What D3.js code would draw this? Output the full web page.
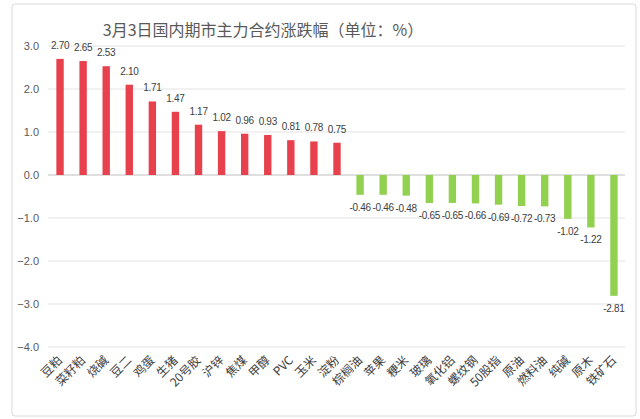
<!DOCTYPE html>
<html lang="zh">
<head>
<meta charset="UTF-8">
<script src="https://d3js.org/d3.v7.min.js"></script>
<style>
  body { margin: 0; background: #fff; }
  text { font-family: "Noto Sans CJK SC", "Liberation Sans", sans-serif; }
</style>
</head>
<body>
<div id="chart"></div>
<script>
// 品种
const categories = ["豆粕", "菜籽粕", "烧碱", "豆二", "鸡蛋", "生猪", "20号胶", "沪锌", "焦煤", "甲醇", "PVC", "玉米", "淀粉",
  "棕榈油", "苹果", "粳米", "玻璃", "氧化铝", "螺纹钢", "50股指", "原油", "燃料油", "纯碱", "原木", "铁矿石"];
// 涨跌幅 %
const values = [2.70, 2.65, 2.53, 2.10, 1.71, 1.47, 1.17, 1.02, 0.96, 0.93, 0.81, 0.78, 0.75,
  -0.46, -0.46, -0.48, -0.65, -0.65, -0.66, -0.69, -0.72, -0.73, -1.02, -1.22, -2.81];
const yTicks = [3, 2, 1, 0, -1, -2, -3, -4];

const W = 640, H = 419;
const svg = d3.select("#chart").append("svg").attr("width", W).attr("height", H);

// frame
svg.append("rect")
  .attr("x", 12).attr("y", 4).attr("width", 624).attr("height", 412)
  .attr("rx", 3)
  .attr("fill", "#fff").attr("stroke", "#d9d9d9");

const x = d3.scaleBand().domain(categories).range([48.5, 625.5]).paddingInner(0.68).paddingOuter(0.34);
const y = d3.scaleLinear().domain([-4, 3]).range([347, 46]);

// grid
svg.append("g").selectAll("line").data(yTicks).join("line")
  .attr("x1", 48).attr("x2", 625)
  .attr("y1", d => y(d)).attr("y2", d => y(d))
  .attr("stroke", d => d === 0 ? "#bfbfbf" : "#e3e3e3")
  .attr("stroke-width", 1);

// y axis
const yAxis = svg.append("g").attr("transform", "translate(40,0)")
  .call(d3.axisLeft(y).tickValues(yTicks).tickFormat(d3.format(".1f")).tickSize(0));
yAxis.select(".domain").remove();
yAxis.selectAll("text").attr("font-size", 11).attr("fill", "#595959")
  .style("font-family", "'Liberation Sans', sans-serif").attr("dx", 2);

// title
svg.append("text")
  .attr("x", 263).attr("y", 36)
  .attr("text-anchor", "middle")
  .attr("font-size", 16).attr("fill", "#595959")
  .text("3月3日国内期市主力合约涨跌幅（单位：%）");

// bars
svg.append("g").selectAll("rect").data(values).join("rect")
  .attr("x", (d, i) => x(categories[i]))
  .attr("width", x.bandwidth())
  .attr("y", d => y(Math.max(0, d)))
  .attr("height", d => Math.abs(y(d) - y(0)))
  .attr("fill", d => d >= 0 ? "#e8414e" : "#92d050");

// data labels
svg.append("g").selectAll("text").data(values).join("text")
  .attr("x", (d, i) => x(categories[i]) + x.bandwidth() / 2)
  .attr("y", d => d >= 0 ? y(d) - 10 : y(d) + 16)
  .attr("text-anchor", "middle")
  .attr("font-size", 10).attr("fill", "#404040")
  .style("font-family", "'Liberation Sans', sans-serif")
  .style("letter-spacing", "-0.3px")
  .text(d => d.toFixed(2));

// category labels
svg.append("g").selectAll("text").data(categories).join("text")
  .attr("transform", d => `translate(${x(d) + x.bandwidth() / 2 + 3},361) rotate(-45)`)
  .attr("text-anchor", "end")
  .attr("font-size", 12).attr("fill", "#404040")
  .text(d => d);
</script>
</body>
</html>
